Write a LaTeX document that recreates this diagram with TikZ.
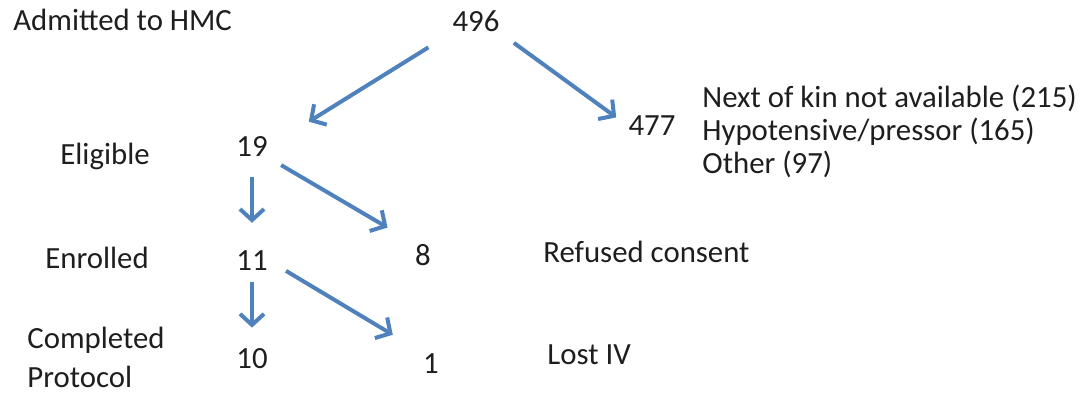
\documentclass[tikz,border=0pt]{standalone}
\usepackage{fontspec}
\setmainfont{Carlito}
\usetikzlibrary{arrows.meta}
\definecolor{flowblue}{RGB}{79,129,189}
\definecolor{flowtext}{RGB}{30,30,30}
\begin{document}
\begin{tikzpicture}[x=0.5pt,y=-0.5pt,inner sep=0pt,
    label/.style={anchor=base west,text=flowtext,font=\fontsize{15.4}{18}\selectfont},
    count/.style={anchor=base,text=flowtext,font=\fontsize{15.4}{18}\selectfont},
    arr/.style={draw=flowblue,line width=2pt,-{Straight Barb[length=5.5pt,width=12pt]}}]
    \useasboundingbox (0,0) rectangle (1090,395);

    %stage labels
    \node (Ladm) at (13,31)[label]{Admitted to HMC};
    \node (Lelig) at (60,165)[label]{Eligible};
    \node (Lenr) at (45,268)[label]{Enrolled};
    \node (Lcomp) at (27,348)[label]{Completed};
    \node (Lprot) at (27,387)[label]{Protocol};

    %counts
    \node (N496) at (476,32)[count]{496};
    \node (N477) at (652,136)[count]{477};
    \node (N19) at (252,157)[count]{19};
    \node (N11) at (252,270)[count]{11};
    \node (N10) at (252,368)[count]{10};
    \node (N8) at (423,265)[count]{8};
    \node (N1) at (431,373)[count]{1};

    %reasons
    \node (R1) at (702,108)[label]{Next of kin not available (215)};
    \node (R2) at (702,141)[label]{Hypotensive/pressor (165)};
    \node (R3) at (702,174)[label]{Other (97)};
    \node (Rref) at (543,262)[label]{Refused consent};
    \node (Rlost) at (547,364)[label]{Lost IV};

    %main flow
    \draw [arr,shorten <=14pt,shorten >=24pt] (N496.south west) to (N19.east);
    \draw [arr,shorten <=10pt,shorten >=13.5pt] (N19.south) to (N11.north);
    \draw [arr,shorten <=6pt,shorten >=10pt] (N11.south) to (N10.north);

    %exclusions
    \draw [arr,shorten <=8.7pt,shorten >=7.4pt] (N496.south east) to (N477.west);
    \draw [arr,shorten <=7.6pt,shorten >=15.8pt] (N19.south east) to (N8.north west);
    \draw [arr,shorten <=10.5pt,shorten >=17.5pt] (N11.east) to (N1.north west);
\end{tikzpicture}
\end{document}
